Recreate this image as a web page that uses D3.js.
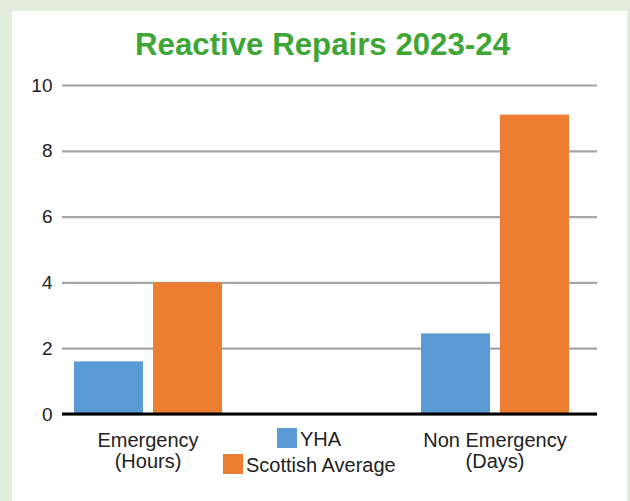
<!DOCTYPE html>
<html>
<head>
<meta charset="utf-8">
<script src="https://cdn.jsdelivr.net/npm/d3@7"></script>
<style>
  html, body { margin: 0; padding: 0; background: #e2eedb; }
  svg { display: block; }
  text { font-family: "Liberation Sans", Arial, Helvetica, sans-serif; fill: #222; }
</style>
</head>
<body>
<svg id="chart" width="630" height="501"></svg>
<script>
// Reactive repairs performance, 2023-24
const categories = ["Emergency (Hours)", "Non Emergency (Days)"];
const categoryLines = [["Emergency", "(Hours)"], ["Non Emergency", "(Days)"]];
const seriesNames = ["YHA", "Scottish Average"];
const yhaValues = [1.6, 2.45];
const scottishAverageValues = [4.0, 9.1];
const yTicks = [0, 2, 4, 6, 8, 10];
const titleText = "Reactive Repairs 2023-24";

const colors = { "YHA": "#5b9bd5", "Scottish Average": "#ed7d31" };
const seriesValues = { "YHA": yhaValues, "Scottish Average": scottishAverageValues };

const svg = d3.select("#chart");

// background card
svg.append("rect").attr("x", 0).attr("y", 0).attr("width", 630).attr("height", 501).attr("fill", "#e2eedb");
svg.append("rect").attr("x", 12).attr("y", 11).attr("width", 615).attr("height", 495).attr("fill", "#ffffff");

// title
svg.append("text")
  .attr("x", 322.5).attr("y", 55)
  .attr("text-anchor", "middle")
  .attr("textLength", 375)
  .attr("lengthAdjust", "spacingAndGlyphs")
  .style("font-size", "31.5px")
  .style("font-weight", "bold")
  .style("fill", "#3ea636")
  .text(titleText);

const plotLeft = 62, plotRight = 597;

const y = d3.scaleLinear().domain([0, 10]).range([414, 85]);

const x0 = d3.scaleBand().domain(categories).range([62, 581])
  .paddingInner(0.5735).paddingOuter(0.0346);
const x1 = d3.scaleBand().domain(seriesNames).range([0, x0.bandwidth()])
  .paddingInner(0.127).paddingOuter(0);

// gridlines + tick labels
const yAxis = d3.axisLeft(y).tickValues(yTicks).tickSize(-(plotRight - plotLeft)).tickPadding(9)
  .tickFormat(d3.format("d"));
const gy = svg.append("g").attr("transform", `translate(${plotLeft},0)`).call(yAxis);
gy.select(".domain").remove();
gy.selectAll(".tick line").attr("stroke", "#a6a6a6").attr("stroke-width", 2.2);
gy.selectAll(".tick text").style("font-size", "19px").style("fill", "#222")
  .attr("x", -9.5);

// bars
const groups = svg.append("g").selectAll("g")
  .data(categories)
  .join("g")
  .attr("transform", d => `translate(${x0(d)},0)`);

groups.selectAll("rect")
  .data((d, i) => seriesNames.map(s => ({ s, v: seriesValues[s][i] })))
  .join("rect")
  .attr("x", d => x1(d.s))
  .attr("width", x1.bandwidth())
  .attr("y", d => y(d.v))
  .attr("height", d => y(0) - y(d.v))
  .attr("fill", d => colors[d.s]);

// baseline
svg.append("line")
  .attr("x1", plotLeft).attr("x2", plotRight)
  .attr("y1", y(0)).attr("y2", y(0))
  .attr("stroke", "#000").attr("stroke-width", 3);

// category labels
categories.forEach((c, i) => {
  const cx = x0(c) + x0.bandwidth() / 2;
  const t = svg.append("text")
    .attr("text-anchor", "middle")
    .style("font-size", "20px");
  categoryLines[i].forEach((line, j) => {
    t.append("tspan").attr("x", cx).attr("y", 446.5 + j * 21.5).text(line);
  });
});

// legend
const legendPos = [{ x: 277, y: 428 }, { x: 223, y: 454 }];
seriesNames.forEach((s, i) => {
  const p = legendPos[i];
  svg.append("rect").attr("x", p.x).attr("y", p.y).attr("width", 20).attr("height", 20)
    .attr("fill", colors[s]);
  svg.append("text").attr("x", p.x + 23).attr("y", p.y + 18)
    .style("font-size", "20px").text(s);
});
</script>
</body>
</html>
